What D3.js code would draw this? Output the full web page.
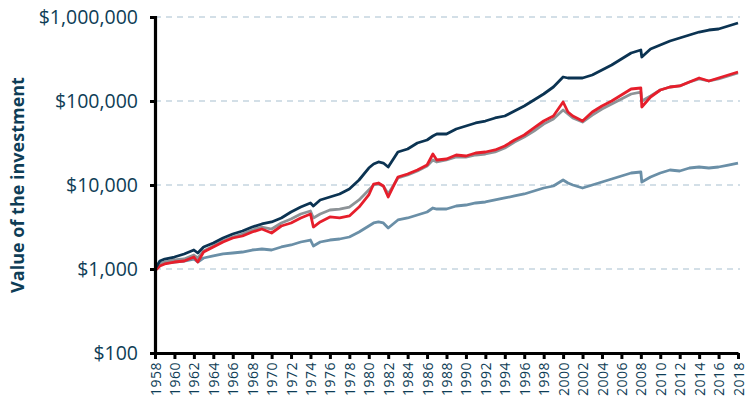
<!DOCTYPE html>
<html>
<head>
<meta charset="utf-8">
<script src="https://cdn.jsdelivr.net/npm/d3@7/dist/d3.min.js"></script>
<style>
  html, body { margin: 0; padding: 0; background: #ffffff; }
  svg { display: block; }
</style>
</head>
<body>
<div id="chart"></div>
<script>
// ---- Data ----
const dates = [1958, 1958.5, 1959, 1960, 1961, 1962, 1962.4, 1963, 1964, 1965, 1966, 1967, 1968, 1969, 1970,
  1971, 1972, 1973, 1974, 1974.3, 1975, 1976, 1977, 1978, 1979, 1980, 1980.5, 1981, 1981.5, 1982,
  1983, 1984, 1985, 1986, 1986.6, 1987, 1988, 1989, 1990, 1991, 1992, 1993, 1994, 1995, 1996,
  1997, 1998, 1999, 2000, 2000.5, 2001, 2002, 2003, 2004, 2005, 2006, 2007, 2008, 2008.1, 2009,
  2010, 2011, 2012, 2013, 2014, 2015, 2016, 2017, 2018];

const navyValues = [1000, 1245, 1315, 1389, 1510, 1683, 1550, 1828, 2040, 2339, 2611, 2834, 3162, 3435, 3628,
  4050, 4774, 5467, 6106, 5623, 6631, 7200, 7817, 8963, 11470, 15930, 17780, 18790, 18270, 16380,
  24710, 26830, 31620, 34350, 38310, 40480, 40480, 46420, 50380, 54720, 57790, 62760, 66290, 76010, 87190,
  102780, 121150, 146780, 193070, 187850, 187850, 187850, 203950, 233900, 268400, 316200, 372800, 404740, 334190, 416000,
  464160, 517900, 562300, 610500, 662600, 700000, 719700, 781600, 848500];

const redValues = [950, 1086, 1148, 1211, 1245, 1389, 1211, 1593, 1828, 2096, 2339, 2471, 2757, 2993, 2683,
  3251, 3530, 4050, 4518, 3162, 3628, 4162, 4050, 4278, 5467, 7606, 10278, 10560, 9730, 7200,
  12450, 13520, 15090, 17300, 23400, 19850, 20400, 22760, 22140, 24040, 24710, 26110, 29130, 34350, 39380,
  47720, 57790, 66290, 97290, 73960, 66290, 57790, 73960, 87190, 100000, 117900, 138950, 142810, 84830, 111580,
  135200, 146780, 151000, 168340, 187850, 173020, 187850, 203950, 221430];

const grayValues = [1000, 1148, 1211, 1280, 1315, 1468, 1352, 1638, 1879, 2154, 2404, 2611, 2913, 3162, 2993,
  3530, 3939, 4518, 4900, 4050, 4518, 5040, 5176, 5467, 6631, 8720, 10000, 10278, 9730, 7817,
  12120, 13150, 14680, 16830, 19850, 18790, 19850, 21540, 21540, 22760, 23400, 24710, 27560, 32510, 37260,
  43940, 53220, 61080, 78160, 69980, 62760, 56230, 68130, 80350, 92100, 105630, 121150, 127900, 100000, 114690,
  135200, 146780, 151000, 168340, 182770, 173020, 182770, 198440, 215400];

const steelValues = [1000, 1148, 1179, 1211, 1245, 1315, 1211, 1352, 1429, 1510, 1550, 1593, 1683, 1730, 1683,
  1828, 1931, 2096, 2214, 1879, 2096, 2214, 2276, 2404, 2757, 3251, 3530, 3628, 3530, 3078,
  3833, 4050, 4396, 4774, 5320, 5176, 5176, 5623, 5779, 6106, 6276, 6631, 7006, 7400, 7817,
  8483, 9210, 9730, 11470, 10560, 10000, 9210, 10000, 10856, 11790, 12800, 13890, 14280, 10856, 12450,
  13890, 15090, 14680, 15930, 16380, 15930, 16380, 17300, 18270];

const yTickValues = [100, 1000, 10000, 100000, 1000000];
const yTickLabels = ["$100", "$1,000", "$10,000", "$100,000", "$1,000,000"];
const xTickYears = d3.range(1958, 2019, 2);
const yAxisTitle = "Value of the investment";

// ---- Layout ----
const W = 752, H = 402;
const mLeft = 155, mRight = 738, mTop = 17, mBottom = 353;
const textColor = "#0e3d56";

const svg = d3.select("#chart").append("svg").attr("width", W).attr("height", H);

const x = d3.scaleLinear().domain([1958, 2018]).range([mLeft, mRight]);
const y = d3.scaleLog().domain([100, 1000000]).range([mBottom, mTop]);

// gridlines
svg.append("g").selectAll("line")
  .data(yTickValues.slice(1))
  .join("line")
  .attr("x1", mLeft).attr("x2", mRight + 2)
  .attr("y1", d => y(d)).attr("y2", d => y(d))
  .attr("stroke", "#a8bfd0").attr("stroke-width", 1.2)
  .attr("stroke-dasharray", "6,5");

// lines
const series = [
  { values: steelValues, color: "#6a8fa7" },
  { values: grayValues, color: "#8d9397" },
  { values: redValues, color: "#e61e2b" },
  { values: navyValues, color: "#0b3352" }
];
const line = d3.line().x((d, i) => x(dates[i])).y(d => y(d));
svg.append("g").selectAll("path")
  .data(series)
  .join("path")
  .attr("d", s => line(s.values))
  .attr("fill", "none")
  .attr("stroke", s => s.color)
  .attr("stroke-width", 2.8)
  .attr("stroke-linejoin", "round");

// y axis
const yAxis = d3.axisLeft(y).tickValues(yTickValues)
  .tickFormat((d, i) => yTickLabels[i]).tickSize(5).tickPadding(12);
const gy = svg.append("g").attr("transform", `translate(${mLeft},0)`).call(yAxis);
gy.select(".domain").attr("stroke", "#000").attr("stroke-width", 3.2);
gy.selectAll(".tick line").attr("stroke", "#000").attr("stroke-width", 3);
gy.selectAll(".tick text")
  .attr("fill", textColor)
  .style("font-family", "'Open Sans', sans-serif")
  .style("font-size", "19.5px");

// x axis
const xAxis = d3.axisBottom(x).tickValues(xTickYears).tickFormat(d3.format("d")).tickSize(6).tickSizeOuter(0);
const gx = svg.append("g").attr("transform", `translate(0,${mBottom})`).call(xAxis);
gx.select(".domain").attr("stroke", "#000").attr("stroke-width", 3.2);
gx.selectAll(".tick line").attr("stroke", "#000").attr("stroke-width", 3);
gx.selectAll(".tick text")
  .attr("fill", textColor)
  .attr("text-anchor", "end")
  .attr("transform", "translate(0,9) rotate(-90)")
  .attr("x", 0).attr("y", 0).attr("dy", "0.36em")
  .style("font-family", "'Open Sans', sans-serif")
  .style("font-size", "14px")
  .style("letter-spacing", "0.5px");

// y axis title
svg.append("text")
  .attr("transform", `translate(24,${(mTop + mBottom) / 2}) rotate(-90)`)
  .attr("text-anchor", "middle")
  .attr("fill", textColor)
  .style("font-family", "'Open Sans', sans-serif")
  .style("font-weight", "700")
  .style("font-size", "18px")
  .text(yAxisTitle);
</script>
</body>
</html>
